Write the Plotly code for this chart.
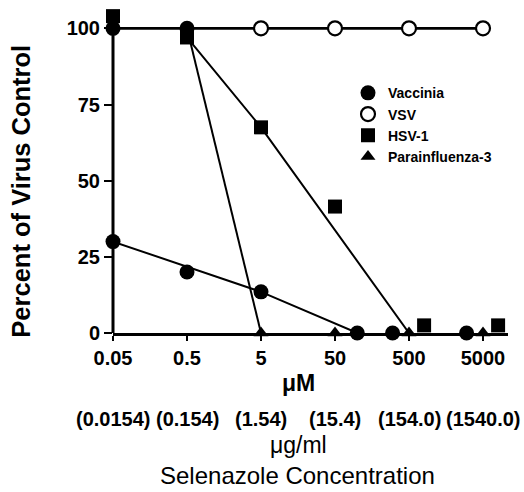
import numpy as np
import plotly.graph_objects as go

# ---- data ----
tick_um = [0.05, 0.5, 5, 50, 500, 5000]
tick_um_text = ["0.05", "0.5", "5", "50", "500", "5000"]
tick_ugml_text = ["(0.0154)", "(0.154)", "(1.54)", "(15.4)", "(154.0)", "(1540.0)"]
y_ticks = [0, 25, 50, 75, 100]

vaccinia_x = [0.05, 0.5, 5, 100, 300, 3000]
vaccinia_y = [30, 20, 13.5, 0, 0, 0]
vaccinia_fit_x = [0.05, 5, 100]
vaccinia_fit_y = [30, 13.5, 0]

vsv_x = [0.05, 0.5, 5, 50, 500, 5000]
vsv_y = [100, 100, 100, 100, 100, 100]
vsv_filled_x = [0.05, 0.5]
vsv_filled_y = [100, 100]

hsv_x = [0.05, 0.5, 5, 50, 800, 8000]
hsv_y = [104, 97, 67.5, 41.5, 2.5, 2.5]
hsv_fit_x = [0.5, 5, 500]
hsv_fit_y = [97, 67.5, 0]

para_x = [5, 50, 500, 5000]
para_y = [0, 0, 0, 0]
para_fit_x = [0.5, 5]
para_fit_y = [100, 0]

series_names = ["Vaccinia", "VSV", "HSV-1", "Parainfluenza-3"]

# ---- layout geometry ----
W, H = 524, 492
X0PIX, X1PIX = 113, 508          # plot left / right edge
Y100PIX, Y0PIX = 28, 333         # pixel of y=100 and y=0
PX_PER_DEC = 74.0
Y_TOP = 107                      # y range top (room for the 104 marker)
ppu = (Y0PIX - Y100PIX) / 100.0
TOPPIX = Y0PIX - Y_TOP * ppu
ML, MR = X0PIX, W - X1PIX
MT, MB = TOPPIX, H - Y0PIX
PW, PH = X1PIX - X0PIX, Y0PIX - TOPPIX
xlo = np.log10(tick_um[0])
xhi = xlo + PW / PX_PER_DEC

def py(ypix):
    return (Y0PIX - ypix) / PH

def px(xpix):
    return (xpix - X0PIX) / PW

FONT = "Liberation Sans, Arial, Helvetica, sans-serif"
BLACK = "#000000"

fig = go.Figure()

# fitted lines
for fx, fy, w in [(vaccinia_fit_x, vaccinia_fit_y, 2), (hsv_fit_x, hsv_fit_y, 2),
                  (para_fit_x, para_fit_y, 2), (vsv_x, vsv_y, 2.8)]:
    fig.add_trace(go.Scatter(x=fx, y=fy, mode="lines", showlegend=False,
                             line=dict(color=BLACK, width=w), cliponaxis=False,
                             hoverinfo="skip"))

fig.add_trace(go.Scatter(x=vsv_filled_x, y=vsv_filled_y, mode="markers", showlegend=False,
                         marker=dict(symbol="circle", size=15, color=BLACK), cliponaxis=False))

fig.add_trace(go.Scatter(x=vaccinia_x, y=vaccinia_y, mode="markers",
                         name="<b>%s</b>" % series_names[0],
                         marker=dict(symbol="circle", size=15, color=BLACK), cliponaxis=False))
fig.add_trace(go.Scatter(x=vsv_x[2:], y=vsv_y[2:], mode="markers",
                         name="<b>%s</b>" % series_names[1],
                         marker=dict(symbol="circle", size=14, color="white",
                                     line=dict(color=BLACK, width=2.2)), cliponaxis=False))
fig.add_trace(go.Scatter(x=hsv_x, y=hsv_y, mode="markers",
                         name="<b>%s</b>" % series_names[2],
                         marker=dict(symbol="square", size=14, color=BLACK), cliponaxis=False))
fig.add_trace(go.Scatter(x=para_x, y=para_y, mode="markers",
                         name="<b>%s</b>" % series_names[3],
                         marker=dict(symbol="triangle-up", size=13, color=BLACK), cliponaxis=False))

annotations = []
for v, t in zip(tick_um, tick_ugml_text):
    annotations.append(dict(x=np.log10(v), xref="x", y=py(419), yref="paper", text="<b>%s</b>" % t,
                            showarrow=False, xanchor="center", yanchor="middle",
                            font=dict(family=FONT, size=20, color=BLACK)))
annotations += [
    dict(x=px(298), y=py(383), xref="paper", yref="paper", text="<b>μM</b>", showarrow=False,
         xanchor="center", yanchor="middle", font=dict(family=FONT, size=23, color=BLACK)),
    dict(x=px(298), y=py(445), xref="paper", yref="paper", text="μg/ml", showarrow=False,
         xanchor="center", yanchor="middle", font=dict(family=FONT, size=23, color=BLACK)),
    dict(x=px(297), y=py(476), xref="paper", yref="paper", text="Selenazole Concentration",
         showarrow=False, xanchor="center", yanchor="middle",
         font=dict(family=FONT, size=24, color=BLACK)),
    dict(x=px(21), y=py(191.5), xref="paper", yref="paper", text="<b>Percent of Virus Control</b>",
         showarrow=False, textangle=-90, xanchor="center", yanchor="middle",
         font=dict(family=FONT, size=25.5, color=BLACK)),
]

fig.update_layout(
    width=W, height=H,
    margin=dict(l=ML, r=MR, t=MT, b=MB, pad=0),
    paper_bgcolor="white", plot_bgcolor="white",
    font=dict(family=FONT, color=BLACK),
    annotations=annotations,
    shapes=[dict(type="line", xref="paper", yref="y", x0=0, x1=0, y0=0, y1=100,
                 line=dict(color=BLACK, width=3), layer="below")],
    legend=dict(x=px(348), y=py(77), xanchor="left", yanchor="top",
                bgcolor="rgba(0,0,0,0)", tracegroupgap=0,
                font=dict(family=FONT, size=14, color=BLACK), itemwidth=30),
    xaxis=dict(type="log", range=[xlo, xhi],
               tickvals=tick_um, ticktext=["<b>%s</b>" % t for t in tick_um_text],
               ticks="outside", ticklen=5, tickwidth=2, tickcolor=BLACK,
               showline=True, linewidth=3, linecolor=BLACK, showgrid=False,
               zeroline=False, tickfont=dict(family=FONT, size=20, color=BLACK)),
    yaxis=dict(range=[0, Y_TOP], tickvals=y_ticks,
               ticktext=["<b>%d</b>" % t for t in y_ticks],
               ticks="outside", ticklen=8, tickwidth=2, tickcolor=BLACK,
               showline=False, showgrid=False,
               zeroline=False, tickfont=dict(family=FONT, size=20, color=BLACK)),
)

fig.write_html("out.html", config={"displayModeBar": False},
               post_script="document.body.style.margin='0';document.body.style.overflow='hidden';")
